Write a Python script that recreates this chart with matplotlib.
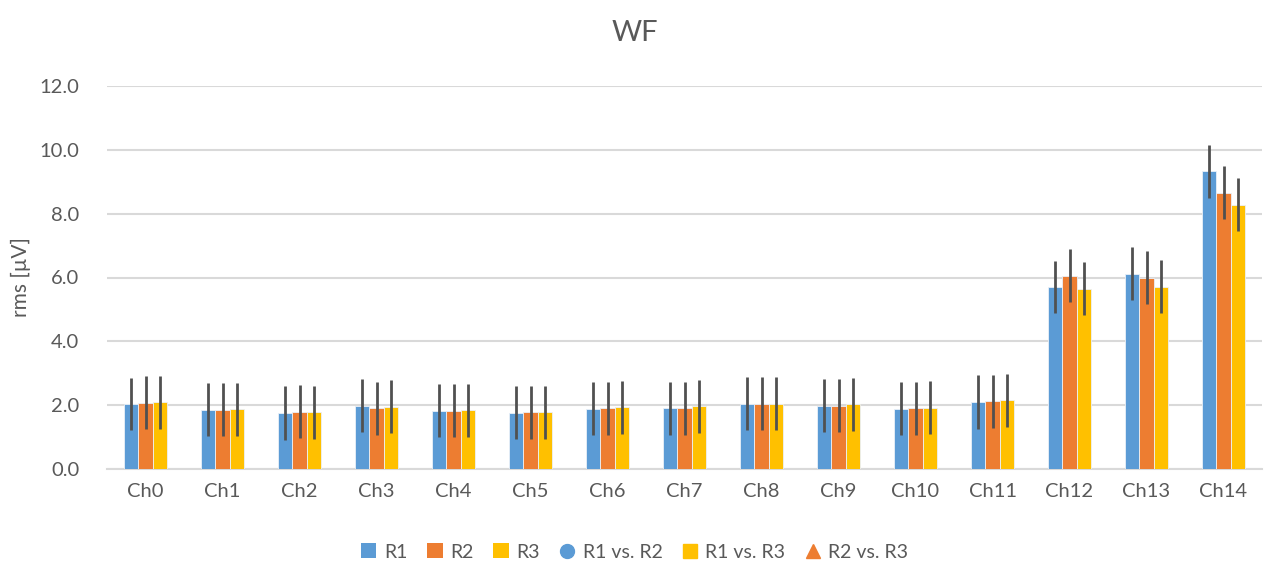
import numpy as np
import matplotlib.pyplot as plt
from matplotlib.lines import Line2D
from matplotlib.patches import Patch

plt.rcParams['font.family'] = ['Lato', 'DejaVu Sans']

channels = ["Ch0", "Ch1", "Ch2", "Ch3", "Ch4", "Ch5", "Ch6", "Ch7",
            "Ch8", "Ch9", "Ch10", "Ch11", "Ch12", "Ch13", "Ch14"]
r1 = [2.04, 1.85, 1.75, 1.98, 1.83, 1.76, 1.89, 1.91, 2.05, 1.98, 1.89, 2.09, 5.70, 6.11, 9.33]
r2 = [2.07, 1.85, 1.79, 1.91, 1.83, 1.78, 1.91, 1.91, 2.05, 1.98, 1.90, 2.13, 6.05, 6.00, 8.65]
r3 = [2.09, 1.87, 1.78, 1.95, 1.84, 1.78, 1.93, 1.96, 2.05, 2.03, 1.92, 2.15, 5.65, 5.71, 8.28]
r1_err = [0.82, 0.83, 0.84, 0.83, 0.84, 0.83, 0.83, 0.83, 0.83, 0.83, 0.83, 0.84, 0.82, 0.83, 0.83]
r2_err = [0.83, 0.83, 0.83, 0.83, 0.83, 0.83, 0.83, 0.83, 0.83, 0.83, 0.83, 0.83, 0.83, 0.83, 0.83]
r3_err = [0.83, 0.83, 0.83, 0.83, 0.83, 0.83, 0.83, 0.83, 0.83, 0.83, 0.83, 0.83, 0.83, 0.83, 0.83]

blue = "#5B9BD5"
orange = "#ED7D31"
yellow = "#FFC000"
txt = "#595959"

fig = plt.figure(figsize=(12.69, 5.73), dpi=100)
ax = fig.add_axes([107 / 1269, 1 - 469 / 573, 1155 / 1269, 383 / 573])

x = np.arange(len(channels))
w = 0.186
for off, vals, err, col in [(-w, r1, r1_err, blue), (0, r2, r2_err, orange), (w, r3, r3_err, yellow)]:
    ax.bar(x + off, vals, w, color=col, edgecolor="#EAF0F8", linewidth=0.6, zorder=3)
    ax.errorbar(x + off, vals, yerr=err, fmt="none", ecolor="#505050", elinewidth=2, capsize=0, zorder=4)

ax.set_xlim(-0.5, len(channels) - 0.5)
ax.set_ylim(0, 12)
ax.set_yticks(np.arange(0, 12.1, 2))
ax.set_yticklabels([f"{v:.1f}" for v in np.arange(0, 12.1, 2)])
ax.set_xticks(x)
ax.set_xticklabels(channels)
ax.yaxis.grid(True, color="#D9D9D9", linewidth=1.5, zorder=0)
ax.set_axisbelow(True)
for s in ["top", "right", "left"]:
    ax.spines[s].set_visible(False)
ax.spines["bottom"].set_color("#D9D9D9")
ax.spines["bottom"].set_linewidth(1.5)
ax.tick_params(axis="both", length=0, labelsize=14.5, colors=txt, pad=10)
ax.tick_params(axis="y", pad=20)
ax.set_ylabel("rms [µV]", fontsize=15, color=txt, labelpad=6)
fig.text(0.5, 1 - 33 / 573, "WF", ha="center", va="center", fontsize=21, color=txt)

handles = [
    Patch(facecolor=blue, label="R1"),
    Patch(facecolor=orange, label="R2"),
    Patch(facecolor=yellow, label="R3"),
    Line2D([], [], marker="o", color=blue, linestyle="none", markersize=10, label="R1 vs. R2"),
    Line2D([], [], marker="s", color=yellow, linestyle="none", markersize=10, label="R1 vs. R3"),
    Line2D([], [], marker="^", color=orange, linestyle="none", markersize=10, label="R2 vs. R3"),
]
fig.legend(handles=handles, loc="center", bbox_to_anchor=(0.5, 1 - 552 / 573), ncol=6, frameon=False,
           fontsize=14, handlelength=0.8, handleheight=0.8, handletextpad=0.4, columnspacing=1.0,
           labelcolor=txt)

plt.savefig("out.png", dpi=100)
